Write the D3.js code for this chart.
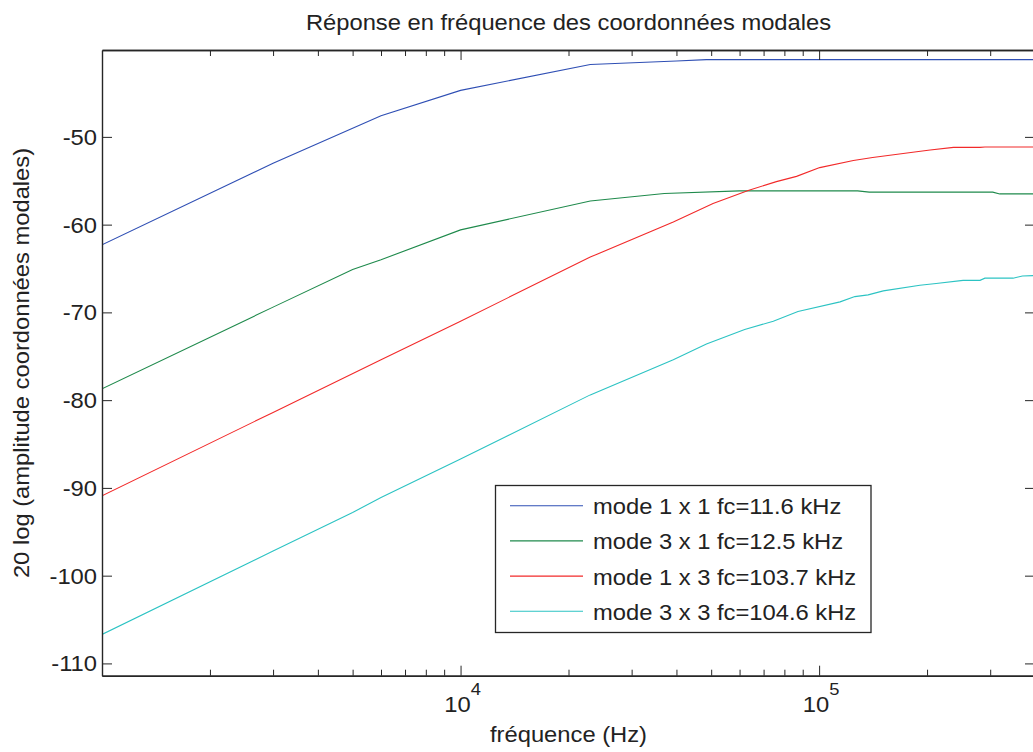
<!DOCTYPE html>
<html>
<head>
<meta charset="utf-8">
<script src="https://cdn.jsdelivr.net/npm/d3@7"></script>
<style>
  html, body { margin: 0; padding: 0; background: #fff; }
  svg { display: block; }
  text { font-family: "Liberation Sans", Arial, Helvetica, sans-serif; fill: #222; }
</style>
</head>
<body>
<svg id="chart" width="1033" height="752"></svg>
<script>
// ---------- data ----------
const title = "Réponse en fréquence des coordonnées modales";
const xLabel = "fréquence (Hz)";
const yLabel = "20 log (amplitude coordonnées modales)";

const seriesNames = [
  "mode 1 x 1 fc=11.6 kHz",
  "mode 3 x 1 fc=12.5 kHz",
  "mode 1 x 3 fc=103.7 kHz",
  "mode 3 x 3 fc=104.6 kHz"
];
const seriesColors = ["#2f4fb4", "#1f8a4c", "#f22a2a", "#2cc3c3"];

const freq11 = [1000, 3000, 6000, 10000, 23000, 40000, 48500, 100000, 400000];
const amp11  = [-62.3, -53.0, -47.6, -44.7, -41.75, -41.35, -41.2, -41.2, -41.2];

const freq31 = [1000, 3000, 5000, 6000, 10000, 23000, 37000, 60000, 128000, 138000, 305000, 319000, 400000];
const amp31  = [-78.7, -69.4, -65.1, -64.0, -60.6, -57.3, -56.45, -56.15, -56.15, -56.3, -56.3, -56.5, -56.5];

const freq13 = [1000, 3000, 6000, 10000, 23000, 39200, 50600, 63400, 76000, 86500, 100400, 124600, 141000, 187000, 204000, 237000, 281000, 290000, 400000];
const amp13  = [-90.9, -81.4, -75.4, -71.0, -63.7, -59.7, -57.6, -56.1, -55.1, -54.5, -53.5, -52.7, -52.35, -51.7, -51.5, -51.2, -51.2, -51.15, -51.15];

const freq33 = [1000, 3000, 5000, 6000, 10000, 23000, 39200, 48500, 62000, 74500, 87300, 114400, 125800, 137000, 151000, 191000, 212000, 252000, 281000, 290000, 347500, 369000, 400000];
const amp33  = [-106.7, -97.2, -92.8, -91.1, -86.7, -79.4, -75.4, -73.6, -71.95, -71.0, -69.9, -68.8, -68.2, -68.0, -67.55, -66.9, -66.7, -66.35, -66.35, -66.1, -66.1, -65.85, -65.8];

const xDomain = [1000, 400000];
const yDomain = [-111.4, -40.1];
const xMajorTicks = [1e4, 1e5];
const xMajorExp = ["4", "5"];
const xMinorTicks = [2000, 3000, 4000, 5000, 6000, 7000, 8000, 9000,
                     20000, 30000, 40000, 50000, 60000, 70000, 80000, 90000,
                     200000, 300000];
const yTicks = [-50, -60, -70, -80, -90, -100, -110];

// ---------- layout ----------
const L = 102, R = 1035, T = 50, B = 675.7;
const SX = 1.08; // horizontal stretch of glyphs in the reference
const svg = d3.select("#chart");

const x = d3.scaleLog().domain(xDomain).range([L, R]);
const y = d3.scaleLinear().domain(yDomain).range([B, T]);

function addText(parent, tx, ty, str, size, anchor, rot) {
  return parent.append("text")
    .attr("transform", `translate(${tx},${ty})` + (rot ? ` rotate(${rot})` : "") + ` scale(${SX},1)`)
    .attr("text-anchor", anchor || "start")
    .style("font-size", size + "px")
    .text(str);
}

// background
svg.append("rect").attr("width", 1033).attr("height", 752).attr("fill", "#fff");

// ---------- lines ----------
const series = [
  { f: freq11, a: amp11 },
  { f: freq31, a: amp31 },
  { f: freq13, a: amp13 },
  { f: freq33, a: amp33 }
];
const line = d3.line().x(d => x(d[0])).y(d => y(d[1]));
svg.append("defs").append("clipPath").attr("id", "clip")
  .append("rect").attr("x", L).attr("y", T).attr("width", R - L).attr("height", B - T);
const gLines = svg.append("g").attr("clip-path", "url(#clip)");
series.forEach((s, i) => {
  gLines.append("path")
    .datum(s.f.map((f, j) => [f, s.a[j]]))
    .attr("d", line)
    .attr("fill", "none")
    .attr("stroke", seriesColors[i])
    .attr("stroke-width", 1.1);
});

// ---------- axes (ticks inward, MATLAB box) ----------
function styleAxis(g) {
  g.selectAll("path.domain").attr("stroke", "#262626").attr("stroke-width", 1.4);
  g.selectAll(".tick line").attr("stroke", "#262626").attr("stroke-width", 1);
  g.selectAll(".tick text").remove();
}
const axes = [
  [d3.axisBottom, `translate(0,${B})`, x, xMajorTicks, -10],
  [d3.axisBottom, `translate(0,${B})`, x, xMinorTicks, -6],
  [d3.axisTop, `translate(0,${T})`, x, xMajorTicks, -10],
  [d3.axisTop, `translate(0,${T})`, x, xMinorTicks, -6],
  [d3.axisLeft, `translate(${L},0)`, y, yTicks, -10],
  [d3.axisRight, `translate(${R},0)`, y, yTicks, -10]
];
axes.forEach(([fn, tr, sc, vals, size]) => {
  svg.append("g").attr("transform", tr)
    .call(fn(sc).tickValues(vals).tickSize(size).tickSizeOuter(0).tickFormat(""))
    .call(styleAxis);
});

// ---------- tick labels ----------
yTicks.forEach(v => addText(svg, 97, y(v) + 8, String(v).replace("-", "-"), 22, "end"));
xMajorTicks.forEach((v, i) => {
  const t = svg.append("text")
    .attr("transform", `translate(${x(v) + 2},711.5) scale(${SX},1)`)
    .attr("text-anchor", "middle")
    .style("font-size", "22px");
  t.append("tspan").text("10");
  t.append("tspan").attr("dy", -17).style("font-size", "17px").text(xMajorExp[i]);
});

// ---------- titles ----------
addText(svg, (L + R) / 2, 30, title, 22, "middle");
addText(svg, (L + R) / 2, 742, xLabel, 22, "middle");
addText(svg, 29, 363, yLabel, 22, "middle", -90);

// ---------- legend ----------
const lg = svg.append("g");
lg.append("rect").attr("x", 495.5).attr("y", 485.5).attr("width", 375.5).attr("height", 147)
  .attr("fill", "#fff").attr("stroke", "#262626").attr("stroke-width", 1.3);
seriesNames.forEach((name, i) => {
  const ry = 505.7 + i * 35.2;
  lg.append("line").attr("x1", 510).attr("x2", 583).attr("y1", ry).attr("y2", ry)
    .attr("stroke", seriesColors[i]).attr("stroke-width", 1.1);
  addText(lg, 593, ry + 8.5, name, 22, "start");
});
</script>
</body>
</html>
